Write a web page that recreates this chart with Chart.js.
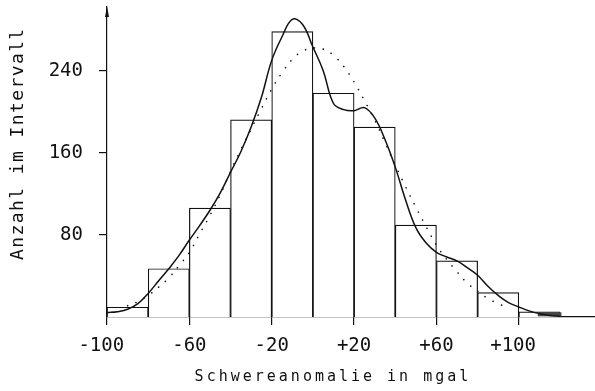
<!DOCTYPE html>
<html>
<head>
<meta charset="utf-8">
<script src="https://cdn.jsdelivr.net/npm/chart.js@4.4.1/dist/chart.umd.min.js"></script>
<style>
  html,body{margin:0;padding:0;background:#fff;}
</style>
</head>
<body>
<canvas id="chart" width="595" height="391"></canvas>
<script>
// histogram, 20 mgal bins given by their centre
const binCenters=[-90,-70,-50,-30,-10,10,30,50,70,90,110];
const binCounts=[9.5,47,106,192,278,218,185,89.5,54.6,23.8,5];

// solid smoothed curve
const smoothX=[-100,-95,-90,-85,-80,-75,-70,-65,-60,-55,-50,-45,-40,-35,-30,-25,-20,-15,-10,-5,
  0,5,10,15,20,25,30,35,40,45,50,55,60,65,70,75,80,85,90,95,100,105,110,115,120];
const smoothY=[4.3,5.2,7.5,13,23,35,47,60,75,89,104,121,141,161,185,214,250,273,290,285,
  263,240,208,202,201,204,194,173,146,114,87,72,63,58.5,54.6,48,40.7,30,21,14,9.8,6,3.3,1.5,0.6];

// dotted curve
const dotX=[-90,-85,-80,-75,-70,-65,-60,-55,-50,-45,-40,-35,-30,-25,-20,-15,-10,-5,
  0,5,10,15,20,25,30,35,40,45,50,55,60,65,70,75,80,85,90,95];
const dotY=[11,15,21,29,38,50,63,81,99,119,142,163,183,203,222,238,251,259,
  262,261,255,244,229,211,192,170,148,127,107,88,70,56,44,33,25,18,13,9];

// dark filled strip at the foot of the last bin
const shadeX=[109.2,120.7];
const shadeY=[2.6,2.6];

const xTicks=[-100,-60,-20,20,60,100];
const xTickLabels=["-100","-60","-20","+20","+60","+100"];
const yTicks=[80,160,240];

const ink="#111";
const mono="'DejaVu Sans Mono', monospace";
const titleSpacing={x:"3px",y:"1.4px"};

// chart.js has no letter spacing option, so wrap the title drawing
const spacedTitles={
  id:"spacedTitles",
  beforeDraw(chart){
    Object.values(chart.scales).forEach(s=>{
      if(s._spaced) return;
      const orig=s.drawTitle;
      s.drawTitle=function(){
        this.ctx.save();
        this.ctx.letterSpacing=titleSpacing[this.id]||"0px";
        orig.call(this);
        this.ctx.restore();
      };
      s._spaced=true;
    });
  }
};

const axisArrow={
  id:"axisArrow",
  afterDraw(chart){
    const {ctx,chartArea:{left,top}}=chart;
    ctx.save();
    ctx.fillStyle=ink;
    ctx.beginPath();
    ctx.moveTo(left,top-1);
    ctx.lineTo(left-2,top+10);
    ctx.lineTo(left+2,top+10);
    ctx.closePath();
    ctx.fill();
    ctx.restore();
  }
};

const ctx=document.getElementById("chart");
new Chart(ctx,{
  type:"bar",
  data:{
    datasets:[
      {
        type:"line",
        data:smoothX.map((x,i)=>({x:x,y:smoothY[i]})),
        borderColor:ink,
        borderWidth:1.5,
        pointRadius:0,
        tension:0.4,
        order:1
      },
      {
        type:"line",
        data:dotX.map((x,i)=>({x:x,y:dotY[i]})),
        borderColor:ink,
        borderWidth:1.6,
        borderDash:[0.1,9],
        borderCapStyle:"round",
        pointRadius:0,
        tension:0.4,
        order:2
      },
      {
        type:"line",
        data:shadeX.map((x,i)=>({x:x,y:shadeY[i]})),
        borderColor:"#444",
        borderWidth:4,
        pointRadius:0,
        order:3
      },
      {
        type:"bar",
        data:binCenters.map((x,i)=>({x:x,y:binCounts[i]})),
        backgroundColor:"#fff",
        borderColor:ink,
        borderWidth:1.2,
        barPercentage:1,
        categoryPercentage:1,
        order:4
      }
    ]
  },
  options:{
    responsive:false,
    animation:false,
    devicePixelRatio:1,
    layout:{padding:{top:7,left:0,right:0,bottom:0}},
    plugins:{legend:{display:false},tooltip:{enabled:false}},
    scales:{
      x:{
        type:"linear",
        min:-100,
        max:137,
        offset:false,
        afterBuildTicks:s=>{s.ticks=xTicks.map(v=>({value:v}));},
        afterFit:s=>{s.height=74;s.paddingLeft=0;s.paddingRight=0;},
        grid:{offset:false,drawOnChartArea:false,drawTicks:true,tickLength:8,color:ink,lineWidth:1.2},
        border:{color:ink,width:1.2},
        ticks:{
          font:{family:mono,size:19},
          color:ink,
          padding:10,
          maxRotation:0,
          autoSkip:false,
          // the plotter centred four-character labels on their digits
          callback:(v,i)=>xTickLabels[i].length>3?xTickLabels[i]+" ":xTickLabels[i]
        },
        title:{
          display:true,
          text:"Schwereanomalie in mgal   ",
          font:{family:mono,size:15},
          color:ink,
          padding:{top:0,bottom:5}
        }
      },
      y:{
        min:0,
        max:302,
        afterBuildTicks:s=>{s.ticks=yTicks.map(v=>({value:v}));},
        afterFit:s=>{s.width=107;s.paddingTop=0;s.paddingBottom=0;},
        grid:{drawOnChartArea:false,drawTicks:true,tickLength:8,color:ink,lineWidth:1.2},
        border:{color:ink,width:1.2},
        ticks:{font:{family:mono,size:19},color:ink,padding:16},
        title:{
          display:true,
          text:"   Anzahl im Intervall",
          font:{family:mono,size:18},
          color:ink,
          padding:{top:8,bottom:0}
        }
      }
    }
  },
  plugins:[spacedTitles,axisArrow]
});
</script>
</body>
</html>
